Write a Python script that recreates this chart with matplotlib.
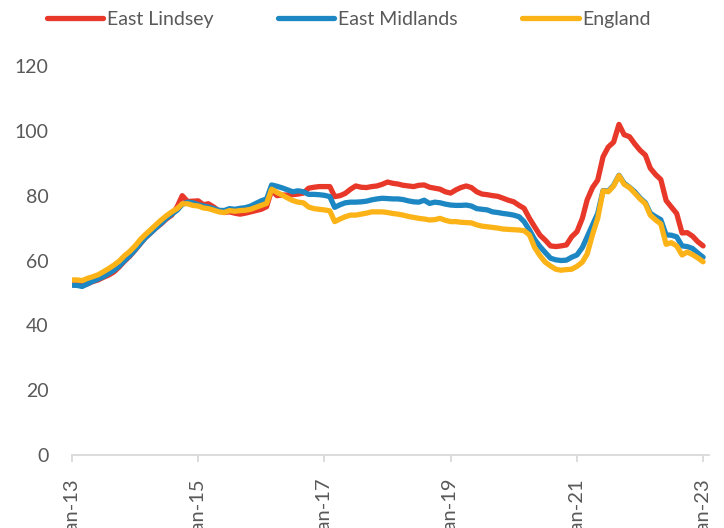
import matplotlib

matplotlib.use("Agg")
import matplotlib.pyplot as plt  # noqa: E402
import matplotlib.dates as mdates  # noqa: E402
import pandas as pd  # noqa: E402

# monthly series, Jan-2013 .. Jan-2023
start = "2013-01-01"

east_lindsey = [
    52.5, 52.5, 52.2, 52.8, 53.5, 54.0, 54.8, 55.5, 56.5, 58.0, 59.8, 61.3,
    63.2, 65.2, 67.0, 68.5, 70.0, 71.3, 72.8, 74.0, 76.5, 80.0, 78.2, 78.3,
    78.4, 77.2, 77.5, 76.5, 75.3, 74.8, 75.0, 74.6, 74.3, 74.6, 75.0, 75.4,
    75.8, 76.6, 81.7, 80.0, 80.2, 80.2, 80.3, 80.5, 80.8, 82.3, 82.6, 82.8,
    82.8, 82.8, 79.7, 80.0, 80.7, 82.0, 83.0, 82.6, 82.5, 82.8, 83.0, 83.5,
    84.2, 83.8, 83.6, 83.2, 83.0, 82.8, 83.2, 83.3, 82.6, 82.3, 82.0, 81.2,
    80.8, 81.8, 82.5, 83.0, 82.5, 81.2, 80.5, 80.3, 80.0, 79.8, 79.2, 78.6,
    78.1, 77.0, 76.1, 73.0, 70.4, 67.8, 66.3, 64.5, 64.3, 64.5, 64.8, 67.3,
    68.9, 73.0, 78.7, 82.5, 84.8, 92.0, 95.0, 96.5, 102.0, 98.8, 98.2, 96.0,
    94.0, 92.5, 88.5, 86.5, 85.0, 78.5, 76.5, 74.5, 68.5, 68.6, 67.5, 65.8,
    64.5,
]

east_midlands = [
    52.4, 52.3, 52.0, 52.8, 53.6, 54.3, 55.0, 56.0, 57.0, 58.3, 60.0, 61.5,
    63.3, 65.3, 67.0, 68.5, 70.0, 71.5, 73.0, 74.3, 75.5, 77.3, 78.0, 77.8,
    77.2, 76.8, 76.5, 76.0, 75.5, 75.4, 76.0, 75.8, 76.1, 76.3, 76.8, 77.6,
    78.4, 79.0, 83.3, 82.9, 82.4, 81.8, 81.2, 81.5, 81.2, 80.4, 80.4, 80.3,
    80.1, 79.7, 76.4, 77.2, 77.8, 78.0, 78.0, 78.1, 78.3, 78.7, 79.0, 79.2,
    79.1, 79.0, 79.0, 78.8, 78.4, 78.1, 78.0, 78.6, 77.6, 78.0, 77.8, 77.4,
    77.1, 77.0, 77.0, 77.1, 76.8, 76.0, 75.8, 75.6, 75.0, 74.8, 74.5, 74.3,
    74.0, 73.5, 72.0, 69.4, 66.5, 64.3, 62.5, 60.7, 60.2, 60.0, 60.1, 61.0,
    61.7, 64.0, 67.3, 71.0, 74.5, 81.6, 81.4, 83.2, 86.3, 83.8, 82.6, 81.2,
    79.3, 77.8, 74.6, 73.5, 72.6, 67.9, 67.8, 67.3, 64.5, 64.3, 63.7, 62.3,
    61.0,
]

england = [
    54.0, 54.0, 53.8, 54.5, 55.0, 55.6, 56.5, 57.5, 58.6, 59.8, 61.5, 62.8,
    64.5, 66.5, 68.0, 69.5, 71.0, 72.5, 73.8, 75.0, 76.0, 77.5, 77.5, 77.0,
    76.8, 76.2, 76.0, 75.5, 75.0, 74.8, 75.4, 75.2, 75.4, 75.5, 75.8, 76.4,
    77.0, 77.6, 82.0, 81.0, 80.2, 79.3, 78.5, 78.0, 77.8, 76.5, 76.0, 75.8,
    75.6, 75.3, 72.0, 72.8, 73.5, 74.0, 74.0, 74.3, 74.6, 75.0, 75.0, 75.0,
    74.8, 74.5, 74.3, 74.0, 73.6, 73.3, 73.0, 72.8, 72.5, 72.6, 73.0, 72.4,
    72.0, 72.0, 71.8, 71.7, 71.6, 71.0, 70.6, 70.4, 70.2, 70.0, 69.7, 69.6,
    69.5, 69.4, 69.2, 67.9, 64.0, 61.5, 59.5, 58.3, 57.3, 57.0, 57.2, 57.3,
    58.2, 59.5, 62.0, 68.0, 73.0, 81.5, 81.2, 83.0, 86.2, 83.5, 82.5, 80.8,
    79.0, 77.5, 74.0, 72.5, 71.3, 65.0, 65.5, 64.5, 61.7, 62.6, 61.8, 60.8,
    59.6,
]

series_names = ["East Lindsey", "East Midlands", "England"]
series_colors = ["#e8382a", "#1c87c2", "#fcb317"]

tick_years = [2013, 2015, 2017, 2019, 2021, 2023]
y_ticks = [0, 20, 40, 60, 80, 100, 120]

months = pd.date_range(start, periods=len(england), freq="MS")
TXT = "#595959"
plt.rcParams["font.family"] = ["Lato", "DejaVu Sans"]

fig = plt.figure(figsize=(7.24, 5.28), dpi=100)
ax = fig.add_axes([72 / 724, 1 - 455 / 528, (709 - 72) / 724, 389 / 528])

for vals, name, c in zip([east_lindsey, east_midlands, england], series_names, series_colors):
    ax.plot(months, vals, color=c, lw=3.8, label=name,
            solid_joinstyle="round", solid_capstyle="round")

ax.set_ylim(0, 120)
ax.set_yticks(y_ticks)
ax.set_xlim(pd.Timestamp("2013-01-01"), pd.Timestamp("2023-02-04"))
ax.set_xticks([pd.Timestamp(f"{y}-01-01") for y in tick_years])
ax.xaxis.set_major_formatter(mdates.DateFormatter("%b-%y"))

for s in ("top", "right", "left"):
    ax.spines[s].set_visible(False)
ax.spines["bottom"].set_color("#d9d9d9")
ax.spines["bottom"].set_linewidth(1.3)

ax.tick_params(axis="y", length=0, pad=17, labelsize=14, labelcolor=TXT)
# the reference image is cropped at the bottom, so the "J" falls off the canvas
ax.tick_params(axis="x", length=5, width=1.3, color="#d9d9d9", pad=11.5,
               labelsize=14.5, labelcolor=TXT, labelrotation=90)

fig.legend(loc="center", bbox_to_anchor=(349 / 724, 1 - 19 / 528), ncol=3,
           frameon=False, fontsize=14, labelcolor=TXT, handlelength=2.9,
           handletextpad=0.2, columnspacing=3.3)

fig.savefig("out.png", dpi=100, facecolor="white")
